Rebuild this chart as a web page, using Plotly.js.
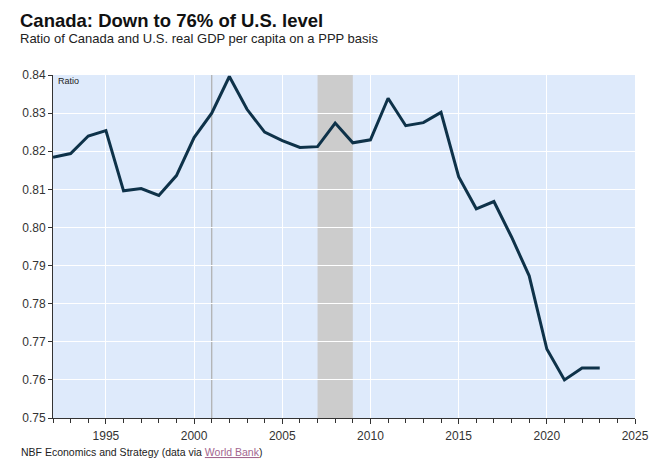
<!DOCTYPE html>
<html>
<head>
<meta charset="utf-8">
<script src="https://cdn.plot.ly/plotly-3.0.1.min.js"></script>
<style>
html,body{margin:0;padding:0;background:#fff;}
#chart{width:660px;height:466px;}
</style>
</head>
<body>
<div id="chart"></div>
<script>
const years = [1992,1993,1994,1995,1996,1997,1998,1999,2000,2001,2002,2003,2004,2005,2006,2007,
               2008,2009,2010,2011,2012,2013,2014,2015,2016,2017,2018,2019,2020,2021,2022,2023];
const ratio = [0.8184,0.8194,0.8240,0.8254,0.8096,0.8102,0.8084,0.8136,0.8236,0.8300,0.8396,0.8310,0.8250,0.8228,0.8210,0.8212,
               0.8274,0.8222,0.8230,0.8339,0.8267,0.8275,0.8302,0.8133,0.8049,0.8068,0.7975,0.7873,0.7681,0.7600,0.7631,0.7631];
const recession = [2007, 2009];
const markerYear = 2001;
const titleText = "Canada: Down to 76% of U.S. level";
const subtitleText = "Ratio of Canada and U.S. real GDP per capita on a PPP basis";
const sourceText = "NBF Economics and Strategy (data via ";
const sourceLink = "World Bank";
const yLabel = "Ratio";

const FONT = "Liberation Sans, Arial, Helvetica, sans-serif";

const trace = {
  x: years, y: ratio, type: 'scatter', mode: 'lines',
  line: {color: '#0e3249', width: 3}, hoverinfo: 'x+y'
};

const layout = {
  width: 660, height: 466,
  margin: {l: 53, r: 25, t: 75, b: 47.5},
  paper_bgcolor: '#ffffff',
  plot_bgcolor: '#deeafb',
  showlegend: false,
  font: {family: FONT, color: '#333333', size: 12},
  xaxis: {
    range: [1992, 2025], dtick: 5, tick0: 1995,
    showgrid: true, gridcolor: '#ffffff', gridwidth: 1,
    showline: true, linecolor: '#333333', linewidth: 1,
    ticks: 'outside', ticklen: 5, tickcolor: '#333333',
    ticklabelstandoff: 2,
    minor: {dtick: 1, ticks: 'outside', ticklen: 3.5, tickcolor: '#333333', showgrid: false},
    zeroline: false, fixedrange: true,
    tickfont: {family: FONT, size: 12, color: '#333333'}
  },
  yaxis: {
    range: [0.75, 0.84], dtick: 0.01, tick0: 0.75, tickformat: '.2f',
    showgrid: true, gridcolor: '#ffffff', gridwidth: 1,
    showline: true, linecolor: '#333333', linewidth: 1,
    ticks: 'outside', ticklen: 4, tickcolor: '#333333',
    zeroline: false, fixedrange: true,
    tickfont: {family: FONT, size: 12, color: '#333333'}
  },
  shapes: [
    {type: 'rect', xref: 'x', yref: 'paper', x0: recession[0], x1: recession[1], y0: 0, y1: 1,
     fillcolor: '#cccccc', line: {width: 0}, layer: 'below'},
    {type: 'line', xref: 'x', yref: 'paper', x0: markerYear, x1: markerYear, y0: 0, y1: 1,
     line: {color: '#adadad', width: 1.2}, layer: 'below'}
  ],
  annotations: [
    {text: '<b>' + titleText + '</b>', xref: 'paper', yref: 'paper', x: -0.0601, y: 1.158,
     xanchor: 'left', yanchor: 'middle', showarrow: false,
     font: {family: FONT, size: 18.5, color: '#111111'}},
    {text: subtitleText, xref: 'paper', yref: 'paper', x: -0.0601, y: 1.106,
     xanchor: 'left', yanchor: 'middle', showarrow: false,
     font: {family: FONT, size: 13, color: '#222222'}},
    {text: yLabel, xref: 'paper', yref: 'paper', x: 0.006, y: 0.983,
     xanchor: 'left', yanchor: 'middle', showarrow: false,
     font: {family: FONT, size: 9, color: '#222222'}},
    {text: sourceText + '<span style="color:#a3668f;text-decoration:underline">' + sourceLink + '</span>)',
     xref: 'paper', yref: 'paper', x: -0.059, y: -0.1004,
     xanchor: 'left', yanchor: 'middle', showarrow: false,
     font: {family: FONT, size: 10.5, color: '#222222'}}
  ]
};

Plotly.newPlot('chart', [trace], layout, {displayModeBar: false, staticPlot: true});
</script>
</body>
</html>
